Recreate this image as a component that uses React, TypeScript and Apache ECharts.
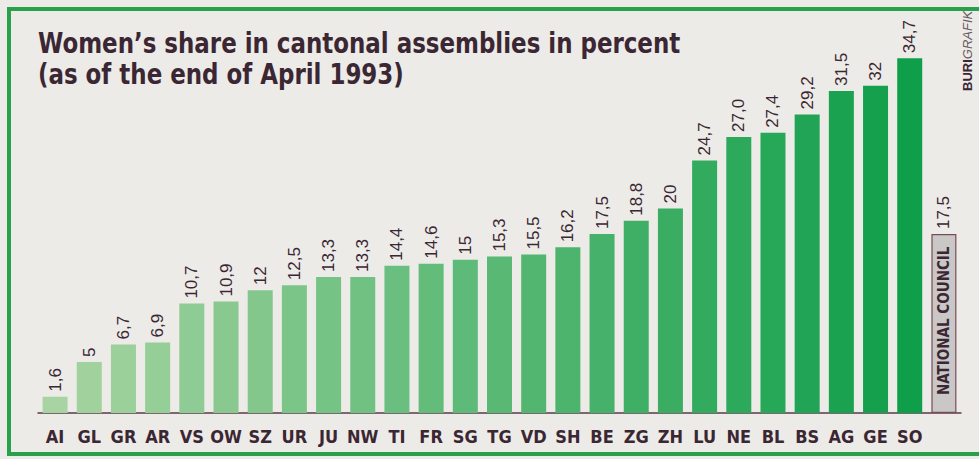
import React, { useEffect, useRef } from "react";
import * as echarts from "echarts";

// Canton abbreviations, left to right
const cantons = [
  "AI", "GL", "GR", "AR", "VS", "OW", "SZ", "UR", "JU", "NW", "TI", "FR", "SG",
  "TG", "VD", "SH", "BE", "ZG", "ZH", "LU", "NE", "BL", "BS", "AG", "GE", "SO",
];

// Women's share in percent, as printed (decimal comma)
const shareLabels = [
  "1,6", "5", "6,7", "6,9", "10,7", "10,9", "12", "12,5", "13,3", "13,3", "14,4", "14,6", "15",
  "15,3", "15,5", "16,2", "17,5", "18,8", "20", "24,7", "27,0", "27,4", "29,2", "31,5", "32", "34,7",
];

// National Council reference value
const nationalCouncilLabel = "17,5";
const nationalCouncilName = "NATIONAL COUNCIL";

const toNumber = (s: string) => parseFloat(s.replace(",", "."));

const TEXT = "#3b2733";
const FRAME = "#29a04a";
const NARROW = "'Liberation Sans Narrow', 'DejaVu Sans Condensed', 'Roboto', sans-serif";
const REGULAR = "'Liberation Sans', 'Noto Sans', sans-serif";

function mix(a: number[], b: number[], t: number) {
  const c = a.map((v, i) => Math.round(v + (b[i] - v) * t));
  return `rgb(${c[0]},${c[1]},${c[2]})`;
}

export default function App() {
  const ref = useRef<HTMLDivElement>(null);

  useEffect(() => {
    if (!ref.current) return;
    const chart = echarts.init(ref.current, undefined, { renderer: "svg" });

    const light = [167, 212, 162];
    const dark = [15, 158, 74];
    const n = cantons.length;

    const cantonData = shareLabels.map((s, i) => ({
      value: toNumber(s),
      itemStyle: { color: mix(light, dark, i / (n - 1)) },
      label: { formatter: s },
    }));

    const ncValue = toNumber(nationalCouncilLabel);
    const mainData: any[] = [
      ...cantonData,
      {
        value: ncValue,
        itemStyle: { color: "#c9c8c6", borderColor: "#7a4b5c", borderWidth: 1.2 },
        label: { formatter: nationalCouncilLabel },
      },
    ];
    const overlayData: any[] = [...cantons.map(() => null), ncValue];

    const frameLine = (x1: number, y1: number, x2: number, y2: number) => ({
      type: "line",
      shape: { x1, y1, x2, y2 },
      style: { stroke: FRAME, lineWidth: 4 },
      z: 10,
    });

    chart.setOption({
      animation: false,
      backgroundColor: "#ecebe7",
      grid: { left: 38, right: 18, top: 4, bottom: 46 },
      xAxis: {
        type: "category",
        data: [...cantons, ""],
        axisLine: { show: true, lineStyle: { color: "#5a3a48", width: 1.5 } },
        axisTick: { show: false },
        axisLabel: {
          color: TEXT,
          fontFamily: NARROW,
          fontWeight: "bold",
          fontSize: 18,
          margin: 14,
          interval: 0,
        },
      },
      yAxis: {
        type: "value",
        min: 0,
        max: 40,
        show: false,
        splitLine: { show: false },
      },
      series: [
        {
          type: "bar",
          data: mainData,
          barWidth: 25,
          label: {
            show: true,
            position: "top",
            rotate: 90,
            align: "left",
            verticalAlign: "middle",
            distance: 5,
            color: TEXT,
            fontFamily: REGULAR,
            fontSize: 17,
          },
        },
        {
          type: "bar",
          data: overlayData,
          barWidth: 25,
          barGap: "-100%",
          itemStyle: { color: "transparent" },
          silent: true,
          label: {
            show: true,
            position: "insideBottom",
            rotate: 90,
            align: "left",
            verticalAlign: "middle",
            distance: 18,
            formatter: nationalCouncilName,
            color: TEXT,
            fontFamily: NARROW,
            fontWeight: "bold",
            fontSize: 15,
          },
        },
      ],
      graphic: [
        // open frame: top, left and bottom edges
        frameLine(7, 9, 979, 9),
        frameLine(9, 7, 9, 456),
        frameLine(7, 454, 979, 454),
        {
          type: "text",
          x: 38,
          y: 27,
          scaleX: 0.88,
          style: {
            text: "Women\u2019s share in cantonal assemblies in percent\n(as of the end of April 1993)",
            font: `bold 29px ${NARROW}`,
            fill: TEXT,
            lineHeight: 31,
          },
        },
        {
          type: "text",
          x: 961,
          y: 91,
          rotation: Math.PI / 2,
          style: {
            text: "{b|BURI}{g|GRAFIK}",
            rich: {
              b: { font: `bold 13px ${REGULAR}`, fill: TEXT },
              g: { font: `italic 13px ${REGULAR}`, fill: "#6a5a62" },
            },
            align: "left",
            verticalAlign: "top",
          },
        },
      ],
    });

    return () => chart.dispose();
  }, []);

  return (
    <div
      ref={ref}
      style={{ position: "fixed", left: 0, top: 0, width: 979, height: 459 }}
    />
  );
}
